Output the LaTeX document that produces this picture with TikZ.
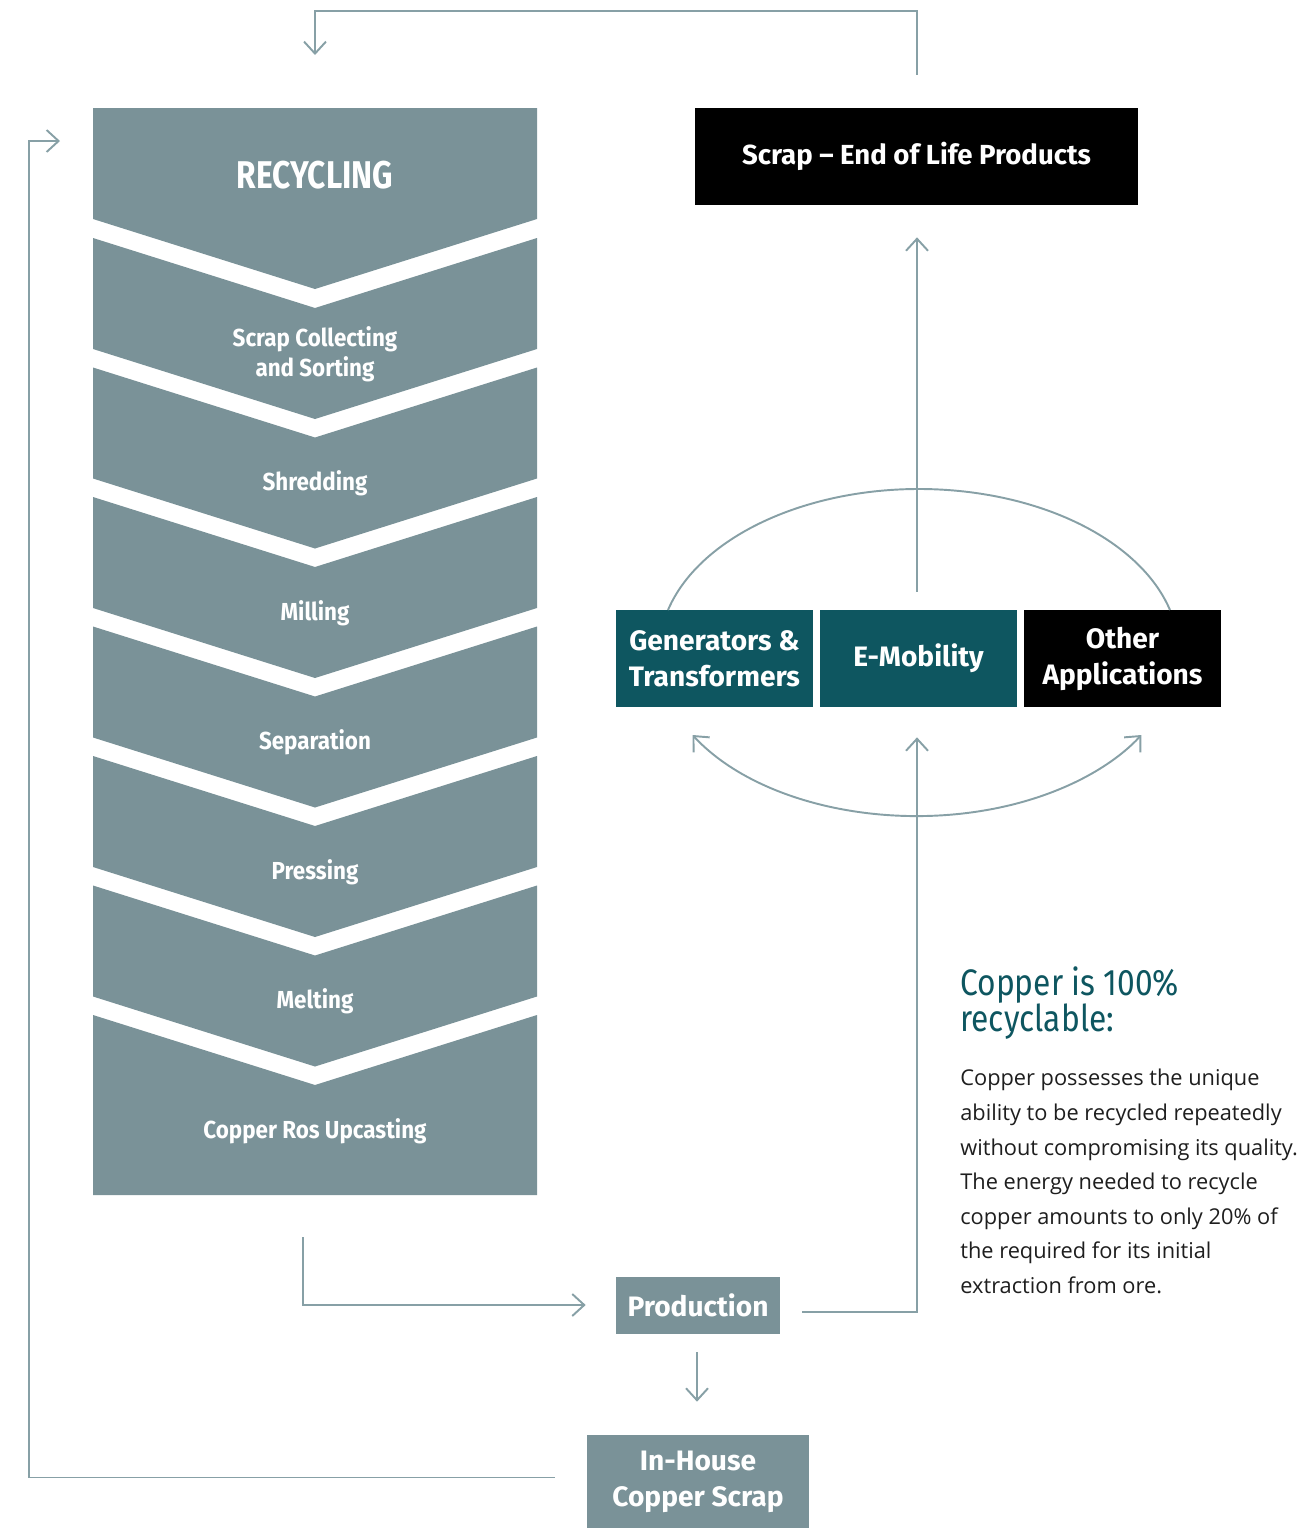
\documentclass[tikz,border=0pt]{standalone}
\usepackage{fontspec}
\setmainfont{Open Sans}
\newfontfamily\etiketFont{Fira Sans}
\newfontfamily\adimFont[FakeStretch=0.91]{Fira Sans}
\newfontfamily\darFont[FakeStretch=0.82]{Fira Sans}
\newfontfamily\baslikFont[FakeStretch=0.86]{Fira Sans}
\usetikzlibrary{arrows.meta}
\definecolor{griMavi}{HTML}{7A9298}
\definecolor{koyuPetrol}{HTML}{0E5660}
\definecolor{cizgiRengi}{HTML}{87A0A6}
\definecolor{metinRengi}{HTML}{1E1E1E}

\begin{document}
\begin{tikzpicture}[x=0.02cm,y=0.02cm,
  cizgi/.style={line width=1.1pt,cizgiRengi},
  ok/.style={cizgi,-{Straight Barb[length=2.4mm,width=4.4mm]}},
  adim/.style={text=white,align=center,
               font=\adimFont\bfseries\fontsize{14}{17}\selectfont},
  kutu/.style={text=white,inner sep=0pt,align=center,
               font=\etiketFont\bfseries\fontsize{16}{20.5}\selectfont},
  siyahKutu/.style={kutu,fill=black},
  petrolKutu/.style={kutu,fill=koyuPetrol,minimum width=3.94cm,minimum height=1.94cm},
  griKutu/.style={kutu,fill=griMavi}]
\useasboundingbox (0,0) rectangle (1310,-1528);

% recycling chevrons
\fill[griMavi] (93,-108) -- (537,-108) -- (537,-219) -- (315,-289) -- (93,-219) -- cycle;
\foreach \k in {1,...,6}{
  \pgfmathsetmacro\t{238+(\k-1)*129.5}
  \fill[griMavi] (93,-\t) -- (315,-\t-70) -- (537,-\t) -- (537,-\t-111)
    -- (315,-\t-181) -- (93,-\t-111) -- cycle;
}
\fill[griMavi] (93,-1015) -- (315,-1085) -- (537,-1015) -- (537,-1195) -- (93,-1195) -- cycle;

\node[adim,font=\darFont\bfseries\fontsize{22}{26}\selectfont] (rec) at (315,-175) {RECYCLING};
\foreach \lab [count=\k] in {{Scrap Collecting\\and Sorting},Shredding,Milling,
    Separation,Pressing,Melting,Copper Ros Upcasting}{
  \pgfmathsetmacro\ty{354+(\k-1)*129.5}
  \node[adim] (adim\k) at (315,-\ty) {\lab};
}

% right side
\node[siyahKutu,minimum width=8.86cm,minimum height=1.94cm,
      font=\etiketFont\bfseries\fontsize{15.7}{19}\selectfont] (scrap) at (916.5,-156.5)
  {Scrap \textendash{} End of Life Products};
\node[petrolKutu] (gen) at (714.5,-658.5) {Generators \&\\Transformers};
\node[petrolKutu] (emob) at (918.5,-658.5) {E-Mobility};
\node[siyahKutu,minimum width=3.94cm,minimum height=1.94cm] (diger) at (1122.5,-658.5)
  {Other\\Applications};
\node[griKutu,minimum width=3.28cm,minimum height=1.14cm] (prod) at (698,-1305.5) {Production};
\node[griKutu,minimum width=4.44cm,minimum height=1.86cm] (ichurda) at (698,-1481.5)
  {In-House\\Copper Scrap};

% cycle arcs
\draw[cizgi] (668,-610) arc[start angle=164.93,end angle=15.07,x radius=5.2cm,y radius=3.27cm];
\draw[cizgi,{Straight Barb[length=2.4mm,width=4.4mm]}-{Straight Barb[length=2.4mm,width=4.4mm]}]
  (692.5,-735) arc[start angle=210.3,end angle=329.7,x radius=5.2cm,y radius=3.27cm];

% connectors
\coordinate (emobUst) at ([yshift=0.36cm]emob.north -| 917,0);
\coordinate (scrapAlt) at ([yshift=-0.64cm]scrap.south -| 917,0);
\draw[ok] (emobUst) -- (scrapAlt);

\coordinate (scrapUst) at ([yshift=0.66cm]scrap.north -| 917,0);
\coordinate (recGiris) at (315,-55);
\draw[ok] (scrapUst) |- (616,-11) -| (recGiris);

\coordinate (zincirSon) at (303,-1237);
\draw[ok] (zincirSon) |- ([xshift=-0.6cm,yshift=0.01cm]prod.west);

\coordinate (prodSag) at ([xshift=0.44cm,yshift=-0.13cm]prod.east);
\coordinate (emobAlt) at ([yshift=-0.6cm]emob.south -| 917,0);
\draw[ok] (prodSag) -| (emobAlt);

\draw[ok] ([yshift=-0.36cm]prod.south -| 697,0) -- ([yshift=0.66cm]ichurda.north -| 697,0);

\coordinate (ichurdaSol) at ([xshift=-0.64cm,yshift=0.08cm]ichurda.west);
\coordinate (recSol) at (60,-141);
\draw[ok] (ichurdaSol) -| (29,-141) -- (recSol);

% info text
\node[anchor=north west,inner sep=0pt,align=left,text=koyuPetrol,
      font=\baslikFont\fontsize{21}{20.5}\selectfont] (baslik) at (960,-966)
  {Copper is 100\%\\recyclable:};
\node[anchor=north west,inner sep=0pt,align=left,text=metinRengi,
      font=\fontsize{12.4}{19.7}\selectfont] (aciklama) at (960,-1069)
  {Copper possesses the unique\\ability to be recycled repeatedly\\without compromising its quality.\\
   The energy needed to recycle\\copper amounts to only 20\% of\\the required for its initial\\
   extraction from ore.};
\end{tikzpicture}
\end{document}
